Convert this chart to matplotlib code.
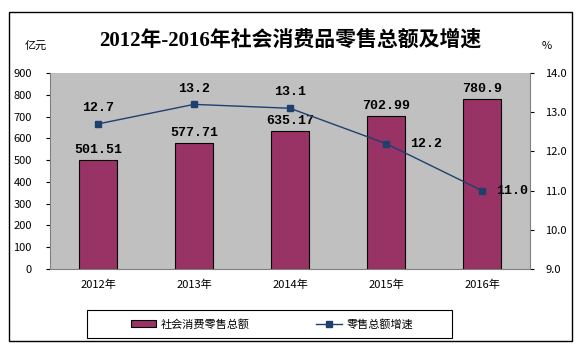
import numpy as np
import matplotlib
matplotlib.use("Agg")
import matplotlib.pyplot as plt
from matplotlib.patches import Rectangle

plt.rcParams['font.family'] = ['Noto Sans CJK SC', 'DejaVu Sans']

years = ['2012年', '2013年', '2014年', '2015年', '2016年']
sales = [501.51, 577.71, 635.17, 702.99, 780.9]
sales_labels = ['501.51', '577.71', '635.17', '702.99', '780.9']
growth = [12.7, 13.2, 13.1, 12.2, 11.0]
growth_labels = ['12.7', '13.2', '13.1', '12.2', '11.0']

bar_color = '#993366'
line_color = '#1F3F6F'
bg_gray = '#C0C0C0'

fig = plt.figure(figsize=(5.87, 3.57), dpi=100)
fig.patch.set_facecolor('white')

# outer frame round the whole chart
fig.patches.append(Rectangle((9 / 587, 16 / 357), 563 / 587, 329 / 357,
                             transform=fig.transFigure, fill=False,
                             edgecolor='black', linewidth=1.0))
# legend frame, drawn by hand so the items can sit inside it like the original
fig.patches.append(Rectangle((87 / 587, 19 / 357), 365 / 587, 28 / 357,
                             transform=fig.transFigure, fill=False,
                             edgecolor='black', linewidth=0.8))

ax = fig.add_axes([50 / 587, 88 / 357, 480 / 587, 196 / 357])
ax.set_facecolor(bg_gray)
x = np.arange(len(years))
bars = ax.bar(x, sales, width=0.4, color=bar_color, edgecolor='black',
              linewidth=0.8, label='社会消费零售总额', zorder=2)
ax.set_xlim(-0.5, len(years) - 0.5)
ax.set_ylim(0, 900)
ax.set_yticks(np.arange(0, 901, 100))
ax.set_xticks(x)
ax.set_xticklabels(years, fontsize=8)
ax.tick_params(axis='y', labelsize=8, length=3, pad=10)
ax.tick_params(axis='x', length=0, pad=8)
for s in ['top', 'right']:
    ax.spines[s].set_visible(False)
ax.spines['left'].set_color('#808080')
ax.spines['bottom'].set_color('#808080')

for xi, v, lab in zip(x, sales, sales_labels):
    ax.text(xi, v + 18, lab, ha='center', va='bottom', fontsize=9.5,
            family='Liberation Mono', fontweight='bold', zorder=4)

ax2 = ax.twinx()
ax2.set_ylim(9, 14)
ax2.set_yticks(np.arange(9, 14.1, 1))
ax2.set_yticklabels(['%.1f' % t for t in np.arange(9, 14.1, 1)])
ax2.tick_params(axis='y', labelsize=8, length=3, pad=8)
for s in ['top', 'left', 'bottom']:
    ax2.spines[s].set_visible(False)
ax2.spines['right'].set_color('#808080')
line, = ax2.plot(x, growth, color=line_color, linewidth=1.0, marker='s',
                 markersize=4.5, label='零售总额增速', zorder=3)

offsets = [(0, 0.25, 'center', 'bottom'),
           (0, 0.25, 'center', 'bottom'),
           (0, 0.25, 'center', 'bottom'),
           (0.25, -0.02, 'left', 'center'),
           (0.15, 0.0, 'left', 'center')]
for xi, v, lab, (dx, dy, ha, va) in zip(x, growth, growth_labels, offsets):
    ax2.text(xi + dx, v + dy, lab, ha=ha, va=va, fontsize=9.5,
             family='Liberation Mono', fontweight='bold', zorder=4)

fig.text(290 / 587, 1 - 40 / 357, '2012年-2016年社会消费品零售总额及增速',
         ha='center', va='center', fontsize=15, fontweight='bold',
         family=['Liberation Serif', 'Noto Sans CJK SC'])
fig.text(36 / 587, 1 - 46 / 357, '亿元', ha='center', va='center', fontsize=8)
fig.text(547 / 587, 1 - 46 / 357, '%', ha='center', va='center', fontsize=8)

leg = fig.legend([bars, line], ['社会消费零售总额', '零售总额增速'],
                 loc='center', bbox_to_anchor=(272 / 587, 33 / 357),
                 ncol=2, fontsize=8, frameon=False,
                 handlelength=2.3, handleheight=0.6, handletextpad=0.4,
                 columnspacing=6.0, borderaxespad=0, borderpad=0.2)

fig.savefig('out.png', dpi=100)
